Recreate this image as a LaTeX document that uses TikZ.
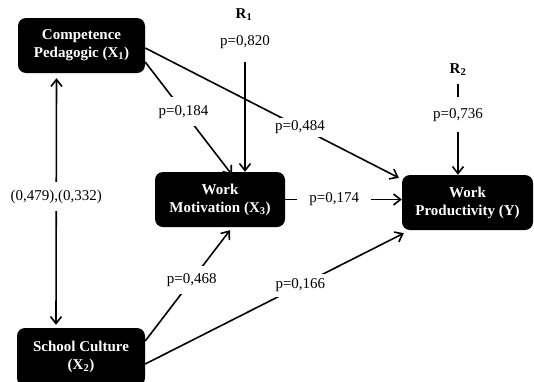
\documentclass[tikz,border=0pt]{standalone}
\usepackage{fontspec}
\setmainfont{Liberation Serif}
\usetikzlibrary{arrows.meta}
\begin{document}
\begin{tikzpicture}[x=1pt,y=-1pt,
  box/.style={fill=black, rounded corners=8pt, text=white, font=\fontsize{15}{18}\selectfont\bfseries,
    align=center, inner sep=0pt},
  lbl/.style={fill=white, font=\fontsize{15}{17}\selectfont, inner sep=3pt},
  tip/.style={Straight Barb[length=7pt,width=11pt]},
  conn/.style={line width=1.6pt, -{Straight Barb[length=7pt,width=11pt]}}]
\useasboundingbox (0,0) rectangle (534,381);

% constructs
\node[box, minimum width=127pt, minimum height=55pt] (x1) at (81.5,45.5) {Competence\\Pedagogic (X\textsubscript{1})};
\node[box, minimum width=130pt, minimum height=55pt] (x3) at (220,199.5) {Work\\Motivation (X\textsubscript{3})};
\node[box, minimum width=131pt, minimum height=55pt] (y) at (467.5,202.5) {Work\\Productivity (Y)};
\node[box, minimum width=128pt, minimum height=58pt] (x2) at (81,357) {School Culture\\(X\textsubscript{2})};

% residuals
\node[font=\fontsize{15}{17}\selectfont\bfseries] (r1) at (244,15) {R\textsubscript{1}};
\node[lbl] (p1) at (245,42) {p=0,820};
\draw[conn, shorten <=10pt] (p1.south) -- ([xshift=25pt]x3.north);

\node[font=\fontsize{15}{17}\selectfont\bfseries] (r2) at (458,70) {R\textsubscript{2}};
\draw[conn, shorten <=4pt] (r2.south) -- node[lbl, inner ysep=11pt, pos=0.37] {p=0,736} (r2.south |- y.north);

% correlation between exogenous constructs
\draw[line width=1.6pt, {Straight Barb[length=7pt,width=11pt]}-{Straight Barb[length=7pt,width=11pt]}]
  ([xshift=-25pt,yshift=-5pt]x1.south) -- node[lbl, inner ysep=8pt, pos=0.48] {(0,479),(0,332)} ([xshift=-25pt,yshift=3pt]x2.north);

% paths
\draw[conn] ([yshift=-16.5pt]x1.east) -- node[lbl, pos=0.44, inner sep=8pt] {p=0,184} ([xshift=12pt,yshift=-3pt]x3.north);
\draw[conn] ([yshift=-2.5pt]x1.east) -- node[lbl, pos=0.61, inner xsep=4pt] {p=0,484} ([xshift=-3pt,yshift=-3pt]y.north west);
\draw[conn] (x3.east) -- node[lbl, pos=0.42, inner xsep=12pt] {p=0,174} (x3.east -| y.west);
\draw[conn] ([yshift=16pt]x2.east) -- node[lbl, pos=0.55, inner sep=7pt] {p=0,468} ([xshift=10pt,yshift=-3pt]x3.south);
\draw[conn] ([yshift=-7pt]x2.east) -- node[lbl, pos=0.6, inner sep=5pt] {p=0,166} ([xshift=2pt,yshift=-3pt]y.south west);
\end{tikzpicture}
\end{document}
